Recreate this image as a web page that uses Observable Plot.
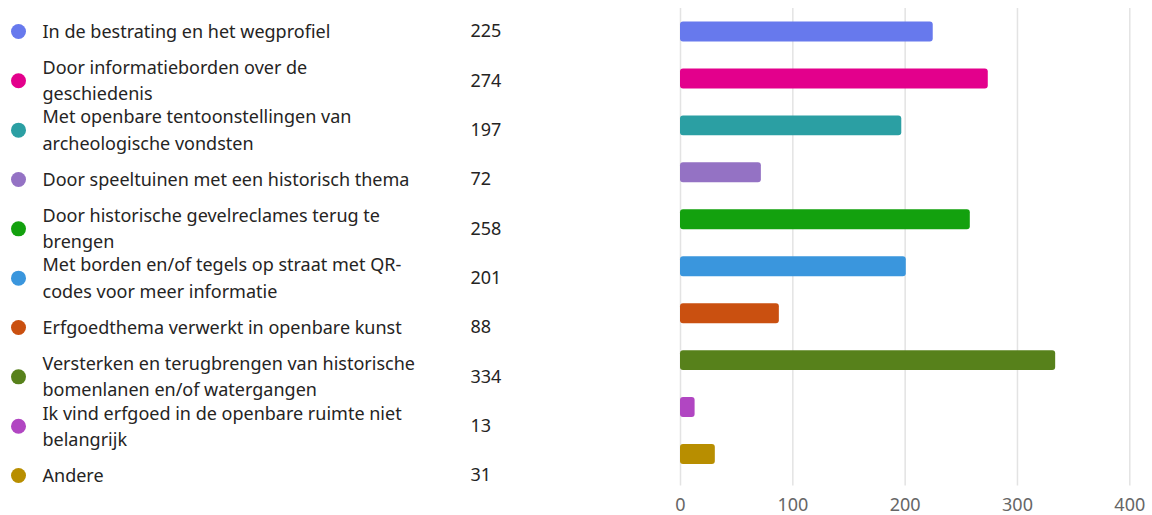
<!DOCTYPE html>
<html>
<head>
<meta charset="utf-8">
<script src="https://cdn.jsdelivr.net/npm/d3@7"></script>
<script src="https://cdn.jsdelivr.net/npm/@observablehq/plot@0.6"></script>
<style>
  html, body { margin: 0; padding: 0; background: #fff; }
  #wrap { position: relative; width: 1152px; height: 515px; overflow: hidden; }
  #wrap svg { position: absolute; left: 0; top: 0; }
</style>
</head>
<body>
<div id="wrap"></div>
<script>
const categories = [
  "In de bestrating en het wegprofiel",
  "Door informatieborden over de\ngeschiedenis",
  "Met openbare tentoonstellingen van\narcheologische vondsten",
  "Door speeltuinen met een historisch thema",
  "Door historische gevelreclames terug te\nbrengen",
  "Met borden en/of tegels op straat met QR-\ncodes voor meer informatie",
  "Erfgoedthema verwerkt in openbare kunst",
  "Versterken en terugbrengen van historische\nbomenlanen en/of watergangen",
  "Ik vind erfgoed in de openbare ruimte niet\nbelangrijk",
  "Andere"
];
const counts = [225, 274, 197, 72, 258, 201, 88, 334, 13, 31];
const colors = ["#6779ED", "#E3008C", "#2B9FA3", "#9472C4", "#13A10E", "#3A96DD", "#CA5010", "#57811B", "#B146C2", "#B88E00"];
const xTicks = [0, 100, 200, 300, 400];

const rows = categories.map((c, i) => ({label: c, value: counts[i], color: colors[i]}));
const font = "'Noto Sans', 'Open Sans', sans-serif";

// Left list: dots, labels, counts
const list = Plot.plot({
  width: 520, height: 515,
  marginLeft: 0, marginRight: 0, marginTop: 6.3, marginBottom: 15.3,
  style: {fontFamily: font, fontSize: "18px", background: "transparent", overflow: "visible"},
  y: {type: "band", domain: categories, padding: 0, round: false, axis: null},
  color: {type: "identity"},
  marks: [
    Plot.dot(rows, {y: "label", frameAnchor: "left", dx: 18, r: 7.5, fill: "color", stroke: null}),
    Plot.text(rows, {y: "label", text: "label", frameAnchor: "left", dx: 42, dy: -2, textAnchor: "start", lineAnchor: "middle", lineHeight: 1.45, fill: "#252423", fontSize: 18}),
    Plot.text(rows, {y: "label", text: d => String(d.value), frameAnchor: "left", dx: 470, textAnchor: "start", lineAnchor: "middle", fill: "#252423", fontSize: 18})
  ]
});

// Bar chart
const bars = Plot.plot({
  width: 1152, height: 515,
  marginLeft: 680, marginRight: 22.7, marginTop: 8, marginBottom: 37.5,
  style: {fontFamily: font, fontSize: "18px", background: "transparent", overflow: "visible"},
  x: {domain: [0, 400], ticks: xTicks, label: null, grid: false},
  y: {type: "band", domain: categories, padding: 0, round: false, axis: null},
  color: {type: "identity"},
  marks: [
    Plot.ruleX(xTicks, {stroke: "#e3e3e3", strokeWidth: 1.5, insetBottom: -8}),
    Plot.barX(rows, {y: "label", x: "value", fill: "color", rx: 3, insetTop: 13.5, insetBottom: 13.5}),
    Plot.axisX({ticks: xTicks, tickSize: 0, tickPadding: 20, label: null, color: "#666", fontSize: 18})
  ]
});

const wrap = document.getElementById("wrap");
wrap.appendChild(bars);
wrap.appendChild(list);
</script>
</body>
</html>
